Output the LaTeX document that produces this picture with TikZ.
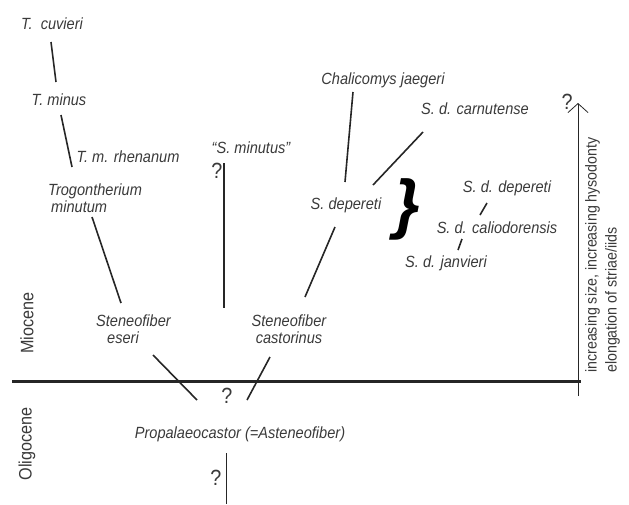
\documentclass[tikz,border=0pt]{standalone}
\usepackage{fontspec}
\setmainfont{Liberation Sans}
\newfontfamily\narrowfont[FakeStretch=0.9]{Liberation Sans}
\usetikzlibrary{arrows.meta}
\definecolor{txt}{HTML}{3A3A3A}
\begin{document}
\begin{tikzpicture}[x=1pt,y=-1pt,
  taxon/.style={font=\narrowfont\fontsize{16.2}{18}\selectfont\itshape, text=txt, inner sep=0pt},
  qmark/.style={font=\narrowfont\fontsize{22}{22}\selectfont, text=txt, inner sep=0pt},
  epoch/.style={font=\narrowfont\fontsize{18}{18}\selectfont, text=txt, rotate=90, inner sep=0pt},
  branch/.style={line width=1.6pt, draw=black!85},
  thin/.style={line width=1.1pt, draw=black!85}]
\useasboundingbox (0,0) rectangle (629,504);
% taxa
\node[taxon] (cuv) at (52,24) {T.\ \ cuvieri};
\node[taxon] (tmin) at (59,100) {T. minus};
\node[taxon] (rhen) at (128,157) {T. m. rhenanum};
\node[taxon, align=left, anchor=west] (trog) at (48,198) {Trogontherium\\[-1pt]\hspace*{3pt}minutum};
\node[taxon, align=left, anchor=west] (eseri) at (96,329) {Steneofiber\\[-1pt]\hspace*{11pt}eseri};
\node[taxon, align=center] (cast) at (289,329) {Steneofiber\\[-1pt]castorinus};
\node[taxon] (smin) at (251,148) {“S. minutus”};
\node[taxon] (chal) at (383,80) {Chalicomys jaegeri};
\node[taxon] (carn) at (475,109) {S. d. carnutense};
\node[taxon] (sdep) at (346,205) {S. depereti};
\node[taxon] (sddep) at (507,188) {S. d. depereti};
\node[taxon] (calio) at (497,228) {S. d. caliodorensis};
\node[taxon] (janv) at (446,263) {S. d. janvieri};
\node[taxon] (prop) at (240,434) {Propalaeocastor (=Asteneofiber)};
% question marks
\node[qmark] (q1) at (217,171) {?};
\node[qmark] (q2) at (567,102) {?};
\node[qmark] (q3) at (227,396) {?};
\node[qmark] (q4) at (216,478) {?};
% brace
\node[font=\fontsize{66}{66}\selectfont\bfseries\itshape, inner sep=0pt] (brace) at (407,209) {\}};
% epochs
\node[epoch] (mio) at (27,323) {Miocene};
\node[epoch] (oli) at (27,444) {Oligocene};
% boundary
\coordinate (bl) at (12,381.5);
\coordinate (br) at (581,381.5);
\draw[line width=2.8pt, draw=black!85] (bl) -- (br);
% branch end points
\coordinate (a1) at (51,42);   \coordinate (a2) at (56,82);
\coordinate (b1) at (61,115);  \coordinate (b2) at (72,167);
\coordinate (c1) at (92,217);  \coordinate (c2) at (121,303);
\coordinate (d1) at (153,355); \coordinate (d2) at (197,400);
\coordinate (e1) at (270,357); \coordinate (e2) at (247,400);
\coordinate (f1) at (224,163); \coordinate (f2) at (224,308);
\coordinate (g1) at (353,92);  \coordinate (g2) at (345,182);
\coordinate (h1) at (423,132); \coordinate (h2) at (373,185);
\coordinate (i1) at (335,227); \coordinate (i2) at (305,297);
\coordinate (j1) at (487,203); \coordinate (j2) at (480,215);
\coordinate (k1) at (462,239); \coordinate (k2) at (458,250);
\coordinate (m1) at (226.5,453); \coordinate (m2) at (226.5,504);
\draw[branch] (a1) -- (a2);
\draw[branch] (b1) -- (b2);
\draw[branch] (c1) -- (c2);
\draw[branch] (d1) -- (d2);
\draw[branch] (e1) -- (e2);
\draw[thin] (f1) -- (f2);
\draw[branch] (g1) -- (g2);
\draw[branch] (h1) -- (h2);
\draw[branch] (i1) -- (i2);
\draw[branch] (j1) -- (j2);
\draw[branch] (k1) -- (k2);
\draw[thin] (m1) -- (m2);
% trend arrow
\coordinate (ar1) at (578,396);
\coordinate (ar2) at (578,103);
\draw[line width=0.8pt, draw=black!85, -{Straight Barb[length=9pt,width=20pt,line width=0.8pt]}] (ar1) -- (ar2);
\node[font=\narrowfont\fontsize{15.8}{20}\selectfont, text=txt, rotate=90, anchor=north west, align=left, inner sep=0pt] (trend) at (585,373)
  {increasing size, increasing hysodonty\\elongation of striae/iids};
\end{tikzpicture}
\end{document}
